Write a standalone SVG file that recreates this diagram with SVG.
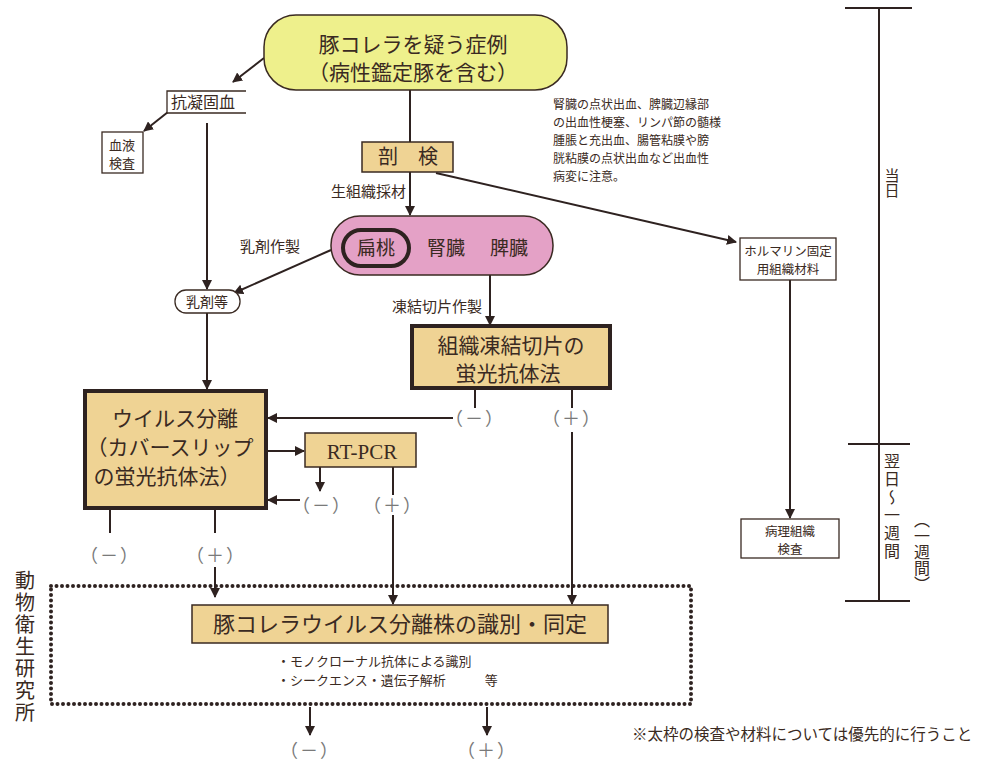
<svg xmlns="http://www.w3.org/2000/svg" width="988" height="768" viewBox="0 0 988 768">
<style>
text{font-family:"Noto Sans CJK JP","Noto Sans",sans-serif;fill:#3a2a22}
.l{stroke:#2e2220;stroke-width:2;fill:none}
.la{stroke:#2e2220;stroke-width:2;fill:none;marker-end:url(#ah)}
.tan{fill:#efd394;stroke:#3a2a22;stroke-width:1.5}
.thick{fill:#efd394;stroke:#2e2220;stroke-width:4}
.wb{fill:#fff;stroke:#3a2a22;stroke-width:1.3}
.pm{fill:#7a7a7a;font-size:18px;letter-spacing:2px}
.s{font-size:12px}
.v{writing-mode:vertical-rl;text-orientation:upright}
</style>
<defs>
<marker id="ah" viewBox="0 0 10 10" refX="9" refY="5" markerWidth="5" markerHeight="5" orient="auto" markerUnits="strokeWidth">
<path d="M0,0 L10,5 L0,10 z" fill="#2e2220"/>
</marker>
</defs>
<rect width="988" height="768" fill="#fff"/>

<g id="connectors">
<line class="la" x1="264" y1="58" x2="233" y2="82"/>
<line class="la" x1="168" y1="112" x2="144" y2="131"/>
<line class="la" x1="207" y1="123" x2="207" y2="289"/>
<line class="l" x1="410" y1="90" x2="410" y2="143"/>
<line class="la" x1="410" y1="172" x2="410" y2="215"/>
<line class="la" x1="436" y1="173" x2="736" y2="242"/>
<line class="la" x1="331" y1="250" x2="234" y2="293"/>
<line class="la" x1="207" y1="313" x2="207" y2="389"/>
<line class="la" x1="490" y1="275" x2="490" y2="325"/>
<line class="l" x1="475" y1="388" x2="475" y2="408"/>
<line class="l" x1="572" y1="388" x2="572" y2="408"/>
<line class="la" x1="453" y1="418" x2="268" y2="418"/>
<line class="la" x1="572" y1="432" x2="572" y2="604"/>
<line class="la" x1="267" y1="451" x2="304" y2="451"/>
<line class="la" x1="320" y1="467" x2="320" y2="491"/>
<line class="la" x1="300" y1="500" x2="268" y2="500"/>
<line class="l" x1="393" y1="467" x2="393" y2="495"/>
<line class="la" x1="393" y1="515" x2="393" y2="604"/>
<line class="l" x1="110" y1="508" x2="110" y2="533"/>
<line class="l" x1="215" y1="508" x2="215" y2="533"/>
<line class="la" x1="215" y1="567" x2="215" y2="597"/>
<line class="la" x1="790" y1="280" x2="790" y2="518"/>
<line class="la" x1="310" y1="707" x2="310" y2="735"/>
<line class="la" x1="487" y1="707" x2="487" y2="735"/>
</g>

<g id="suspect">
<rect x="264" y="15" width="303" height="75" rx="32" fill="#eef08c" stroke="#3a2a22" stroke-width="1.5"/>
<text x="413" y="52" font-size="21" text-anchor="middle">豚コレラを疑う症例</text>
<text x="413" y="80" font-size="21" text-anchor="middle">（病性鑑定豚を含む）</text>
</g>

<g id="anticoag">
<path d="M246,91 H167 V113 H246" fill="#fff" stroke="#3a2a22" stroke-width="1.3"/>
<text x="203" y="108" font-size="16" text-anchor="middle">抗凝固血</text>
</g>

<g id="blood">
<rect class="wb" x="102" y="132" width="41" height="41"/>
<text x="122" y="150" font-size="13" text-anchor="middle">血液</text>
<text x="122" y="168" font-size="13" text-anchor="middle">検査</text>
</g>

<g id="necropsy">
<rect class="tan" x="362" y="142" width="91" height="30"/>
<text x="408" y="164" font-size="20" text-anchor="middle">剖　検</text>
</g>
<text x="406" y="197" font-size="15" text-anchor="end">生組織採材</text>

<g id="note">
<text x="553" y="109" class="s">腎臓の点状出血、脾臓辺縁部</text>
<text x="553" y="127" class="s">の出血性梗塞、リンパ節の髄様</text>
<text x="553" y="145" class="s">腫脹と充出血、腸管粘膜や膀</text>
<text x="553" y="163" class="s">胱粘膜の点状出血など出血性</text>
<text x="553" y="181" class="s">病変に注意。</text>
</g>

<g id="organs">
<rect x="331" y="216" width="222" height="59" rx="29" fill="#e4a1c6" stroke="#3a2a22" stroke-width="1.5"/>
<rect x="343" y="230" width="66" height="36" rx="18" fill="none" stroke="#2e2220" stroke-width="4"/>
<text x="376" y="255" font-size="19" text-anchor="middle">扁桃</text>
<text x="446" y="255" font-size="19" text-anchor="middle">腎臓</text>
<text x="509" y="255" font-size="19" text-anchor="middle">脾臓</text>
</g>
<text x="270" y="252" font-size="15" text-anchor="middle">乳剤作製</text>

<g id="emulsion">
<rect class="wb" x="175" y="290" width="65" height="23" rx="11"/>
<text x="207" y="307" font-size="14" text-anchor="middle">乳剤等</text>
</g>

<text x="437" y="312" font-size="15" text-anchor="middle">凍結切片作製</text>

<g id="frozen">
<rect class="thick" x="412" y="326" width="198" height="62"/>
<text x="511" y="353" font-size="21" text-anchor="middle">組織凍結切片の</text>
<text x="508" y="381" font-size="21" text-anchor="middle">蛍光抗体法</text>
</g>
<text x="475" y="425" class="pm" text-anchor="middle">（－）</text>
<text x="572" y="425" class="pm" text-anchor="middle">（＋）</text>

<g id="isolation">
<rect class="thick" x="85" y="391" width="181" height="117"/>
<text x="175" y="426" font-size="21" text-anchor="middle">ウイルス分離</text>
<text x="170" y="455" font-size="21" text-anchor="middle">（カバースリップ</text>
<text x="167" y="484" font-size="21" text-anchor="middle">の蛍光抗体法）</text>
</g>

<g id="rtpcr">
<rect class="tan" x="305" y="433" width="111" height="34"/>
<text x="362" y="459" font-size="21" text-anchor="middle" style="font-family:'Liberation Serif',serif">RT-PCR</text>
</g>
<text x="322" y="512" class="pm" text-anchor="middle">（－）</text>
<text x="393" y="512" class="pm" text-anchor="middle">（＋）</text>
<text x="110" y="562" class="pm" text-anchor="middle">（－）</text>
<text x="216" y="562" class="pm" text-anchor="middle">（＋）</text>

<g id="niah">
<rect x="51" y="586" width="640" height="118" fill="none" stroke="#2e2220" stroke-width="4" stroke-linecap="round" stroke-dasharray="0 5.5"/>
<text x="25" y="570" font-size="20" class="v" letter-spacing="2">動物衛生研究所</text>
</g>

<g id="identify">
<rect class="tan" x="192" y="605" width="416" height="38"/>
<text x="400" y="632" font-size="22" text-anchor="middle">豚コレラウイルス分離株の識別・同定</text>
<text x="277" y="666" font-size="13">・モノクローナル抗体による識別</text>
<text x="277" y="685" font-size="13">・シークエンス・遺伝子解析　　　等</text>
</g>
<text x="310" y="757" class="pm" text-anchor="middle">（－）</text>
<text x="487" y="757" class="pm" text-anchor="middle">（＋）</text>

<g id="formalin">
<rect class="wb" x="740" y="238" width="96" height="42"/>
<text x="788" y="256" font-size="12.5" text-anchor="middle">ホルマリン固定</text>
<text x="788" y="274" font-size="12.5" text-anchor="middle">用組織材料</text>
</g>

<g id="histo">
<rect class="wb" x="741" y="519" width="98" height="39"/>
<text x="790" y="536" font-size="12.5" text-anchor="middle">病理組織</text>
<text x="790" y="554" font-size="12.5" text-anchor="middle">検査</text>
</g>

<g id="timeline">
<line class="l" x1="879" y1="8" x2="879" y2="601" stroke-width="2.5"/>
<line class="l" x1="845" y1="8" x2="912" y2="8" stroke-width="2.5"/>
<line class="l" x1="848" y1="444" x2="910" y2="444" stroke-width="2.5"/>
<line class="l" x1="845" y1="601" x2="910" y2="601" stroke-width="2.5"/>
<text x="892" y="168" font-size="15" class="v">当日</text>
<text x="892" y="453" font-size="16" class="v" letter-spacing="2">翌日〜一週間</text>
<text x="922" y="512" font-size="16" class="v">（一週間）</text>
</g>

<text x="632" y="740" font-size="15.5">※太枠の検査や材料については優先的に行うこと</text>
</svg>
